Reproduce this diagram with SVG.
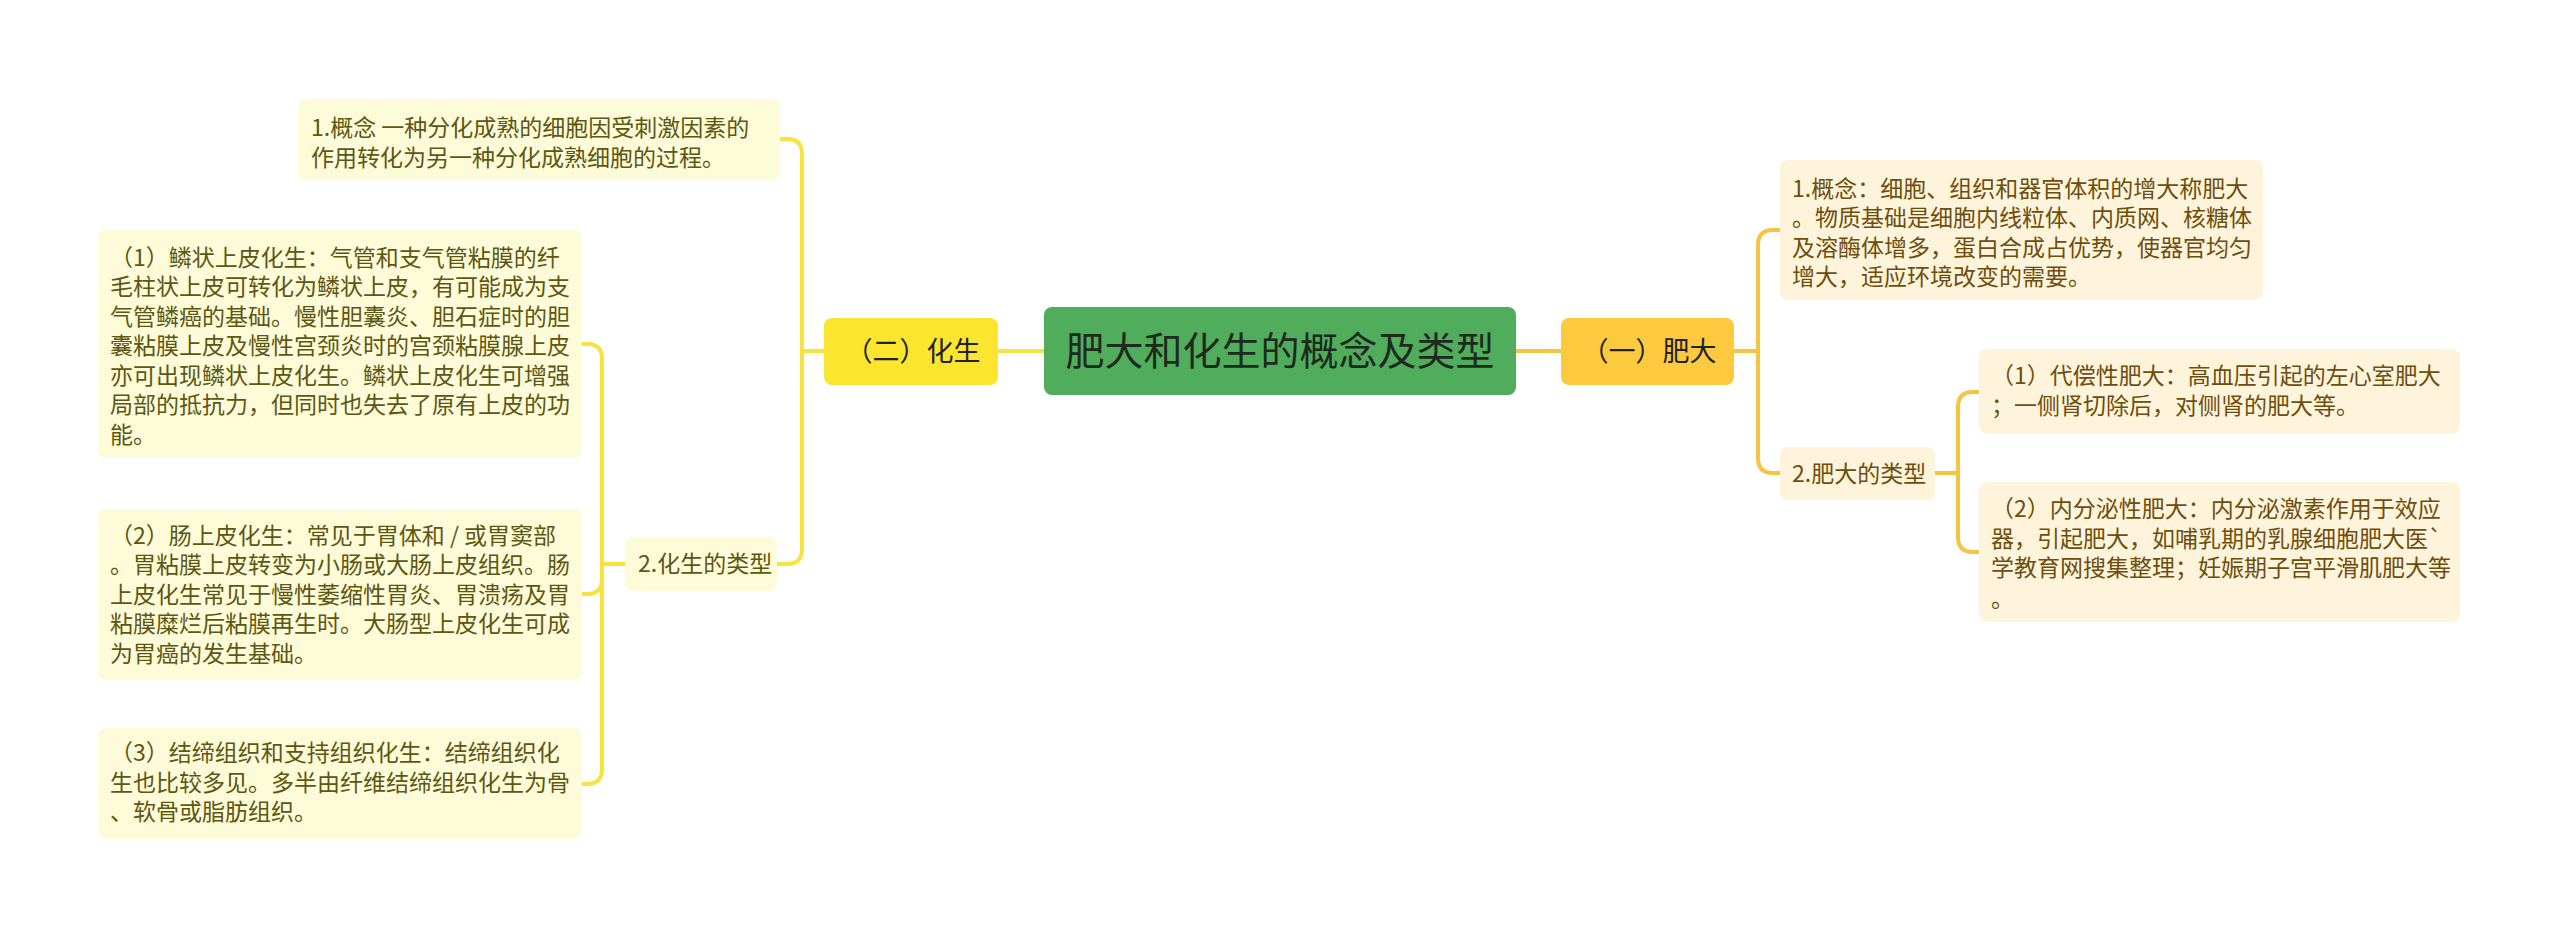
<svg xmlns="http://www.w3.org/2000/svg" width="2560" height="939" viewBox="0 0 2560 939">
<style>
text{font-family:"Noto Sans CJK SC","Noto Sans",sans-serif;}
.t{font-size:23px;}
.ly{fill:#FEFBD8;}
.ry{fill:#FEF4DB;}
.lt{fill:#5C5712;}
.rt{fill:#6E4E0C;}
.lc{fill:none;stroke:#F8E23C;stroke-width:4;stroke-linecap:round;}
.rc{fill:none;stroke:#F6C343;stroke-width:4;stroke-linecap:round;}
</style>
<rect width="2560" height="939" fill="#FFFFFF"/>
<g id="connectors">
<path class="lc" d="M1044 351 H998"/>
<path class="rc" d="M1516 351 H1561"/>
<path class="lc" d="M824 351 H802"/>
<path class="lc" d="M802 351 V154 Q802 139 787 139 H780"/>
<path class="lc" d="M802 351 V549 Q802 564 787 564 H777"/>
<path class="lc" d="M625 564 H602"/>
<path class="lc" d="M602 564 V359 Q602 344 587 344 H582"/>
<path class="lc" d="M602 564 V579 Q602 594 587 594 H582"/>
<path class="lc" d="M602 564 V769 Q602 784 587 784 H582"/>
<path class="rc" d="M1734 351 H1758"/>
<path class="rc" d="M1758 351 V245 Q1758 230 1773 230 H1780"/>
<path class="rc" d="M1758 351 V458 Q1758 473 1773 473 H1780"/>
<path class="rc" d="M1935 473 H1958"/>
<path class="rc" d="M1958 473 V407 Q1958 392 1973 392 H1979"/>
<path class="rc" d="M1958 473 V537 Q1958 552 1973 552 H1979"/>
</g>
<g id="root">
<rect x="1044" y="307" width="472" height="88" rx="8" fill="#4FAD5B"/>
<text x="1280" y="365" font-size="39" text-anchor="middle" fill="#1F2A1F">肥大和化生的概念及类型</text>
</g>
<g id="n-huasheng">
<rect x="824" y="318" width="174" height="67" rx="8" fill="#FBE52F"/>
<text x="913" y="361" font-size="27" text-anchor="middle" fill="#222222">（二）化生</text>
</g>
<g id="n-feida">
<rect x="1561" y="318" width="173" height="67" rx="8" fill="#FCC93F"/>
<text x="1649" y="361" font-size="27" text-anchor="middle" fill="#222222">（一）肥大</text>
</g>
<g id="n-hs-concept">
<rect class="ly" x="298" y="99" width="482" height="81" rx="8"/>
<text class="t lt"><tspan x="311" y="136">1.概念 一种分化成熟的细胞因受刺激因素的</tspan><tspan x="311" y="165.5">作用转化为另一种分化成熟细胞的过程。</tspan></text>
</g>
<g id="n-hs-types">
<rect class="ly" x="625" y="537" width="152" height="54" rx="8"/>
<text class="t lt" x="638" y="572">2.化生的类型</text>
</g>
<g id="n-hs-1">
<rect class="ly" x="98" y="230" width="484" height="228" rx="8"/>
<text class="t lt"><tspan x="110" y="265.5">（1）鳞状上皮化生：气管和支气管粘膜的纤</tspan><tspan x="110" y="295">毛柱状上皮可转化为鳞状上皮，有可能成为支</tspan><tspan x="110" y="324.5">气管鳞癌的基础。慢性胆囊炎、胆石症时的胆</tspan><tspan x="110" y="354">囊粘膜上皮及慢性宫颈炎时的宫颈粘膜腺上皮</tspan><tspan x="110" y="383.5">亦可出现鳞状上皮化生。鳞状上皮化生可增强</tspan><tspan x="110" y="413">局部的抵抗力，但同时也失去了原有上皮的功</tspan><tspan x="110" y="442.5">能。</tspan></text>
</g>
<g id="n-hs-2">
<rect class="ly" x="98" y="509" width="484" height="171" rx="8"/>
<text class="t lt"><tspan x="110" y="543.5">（2）肠上皮化生：常见于胃体和 / 或胃窦部</tspan><tspan x="110" y="573">。胃粘膜上皮转变为小肠或大肠上皮组织。肠</tspan><tspan x="110" y="602.5">上皮化生常见于慢性萎缩性胃炎、胃溃疡及胃</tspan><tspan x="110" y="632">粘膜糜烂后粘膜再生时。大肠型上皮化生可成</tspan><tspan x="110" y="661.5">为胃癌的发生基础。</tspan></text>
</g>
<g id="n-hs-3">
<rect class="ly" x="98" y="728" width="484" height="111" rx="8"/>
<text class="t lt"><tspan x="110" y="761">（3）结缔组织和支持组织化生：结缔组织化</tspan><tspan x="110" y="790.5">生也比较多见。多半由纤维结缔组织化生为骨</tspan><tspan x="110" y="820">、软骨或脂肪组织。</tspan></text>
</g>
<g id="n-fd-concept">
<rect class="ry" x="1780" y="160" width="483" height="140" rx="8"/>
<text class="t rt"><tspan x="1792" y="196.5">1.概念：细胞、组织和器官体积的增大称肥大</tspan><tspan x="1792" y="226">。物质基础是细胞内线粒体、内质网、核糖体</tspan><tspan x="1792" y="255.5">及溶酶体增多，蛋白合成占优势，使器官均匀</tspan><tspan x="1792" y="285">增大，适应环境改变的需要。</tspan></text>
</g>
<g id="n-fd-types">
<rect class="ry" x="1780" y="447" width="155" height="53" rx="8"/>
<text class="t rt" x="1792" y="481.5">2.肥大的类型</text>
</g>
<g id="n-fd-1">
<rect class="ry" x="1979" y="349" width="481" height="85" rx="8"/>
<text class="t rt"><tspan x="1991" y="384">（1）代偿性肥大：高血压引起的左心室肥大</tspan><tspan x="1991" y="413.5">；一侧肾切除后，对侧肾的肥大等。</tspan></text>
</g>
<g id="n-fd-2">
<rect class="ry" x="1979" y="482" width="481" height="140" rx="8"/>
<text class="t rt"><tspan x="1991" y="517">（2）内分泌性肥大：内分泌激素作用于效应</tspan><tspan x="1991" y="546.5">器，引起肥大，如哺乳期的乳腺细胞肥大医`</tspan><tspan x="1991" y="576">学教育网搜集整理；妊娠期子宫平滑肌肥大等</tspan><tspan x="1991" y="607">。</tspan></text>
</g>
</svg>
